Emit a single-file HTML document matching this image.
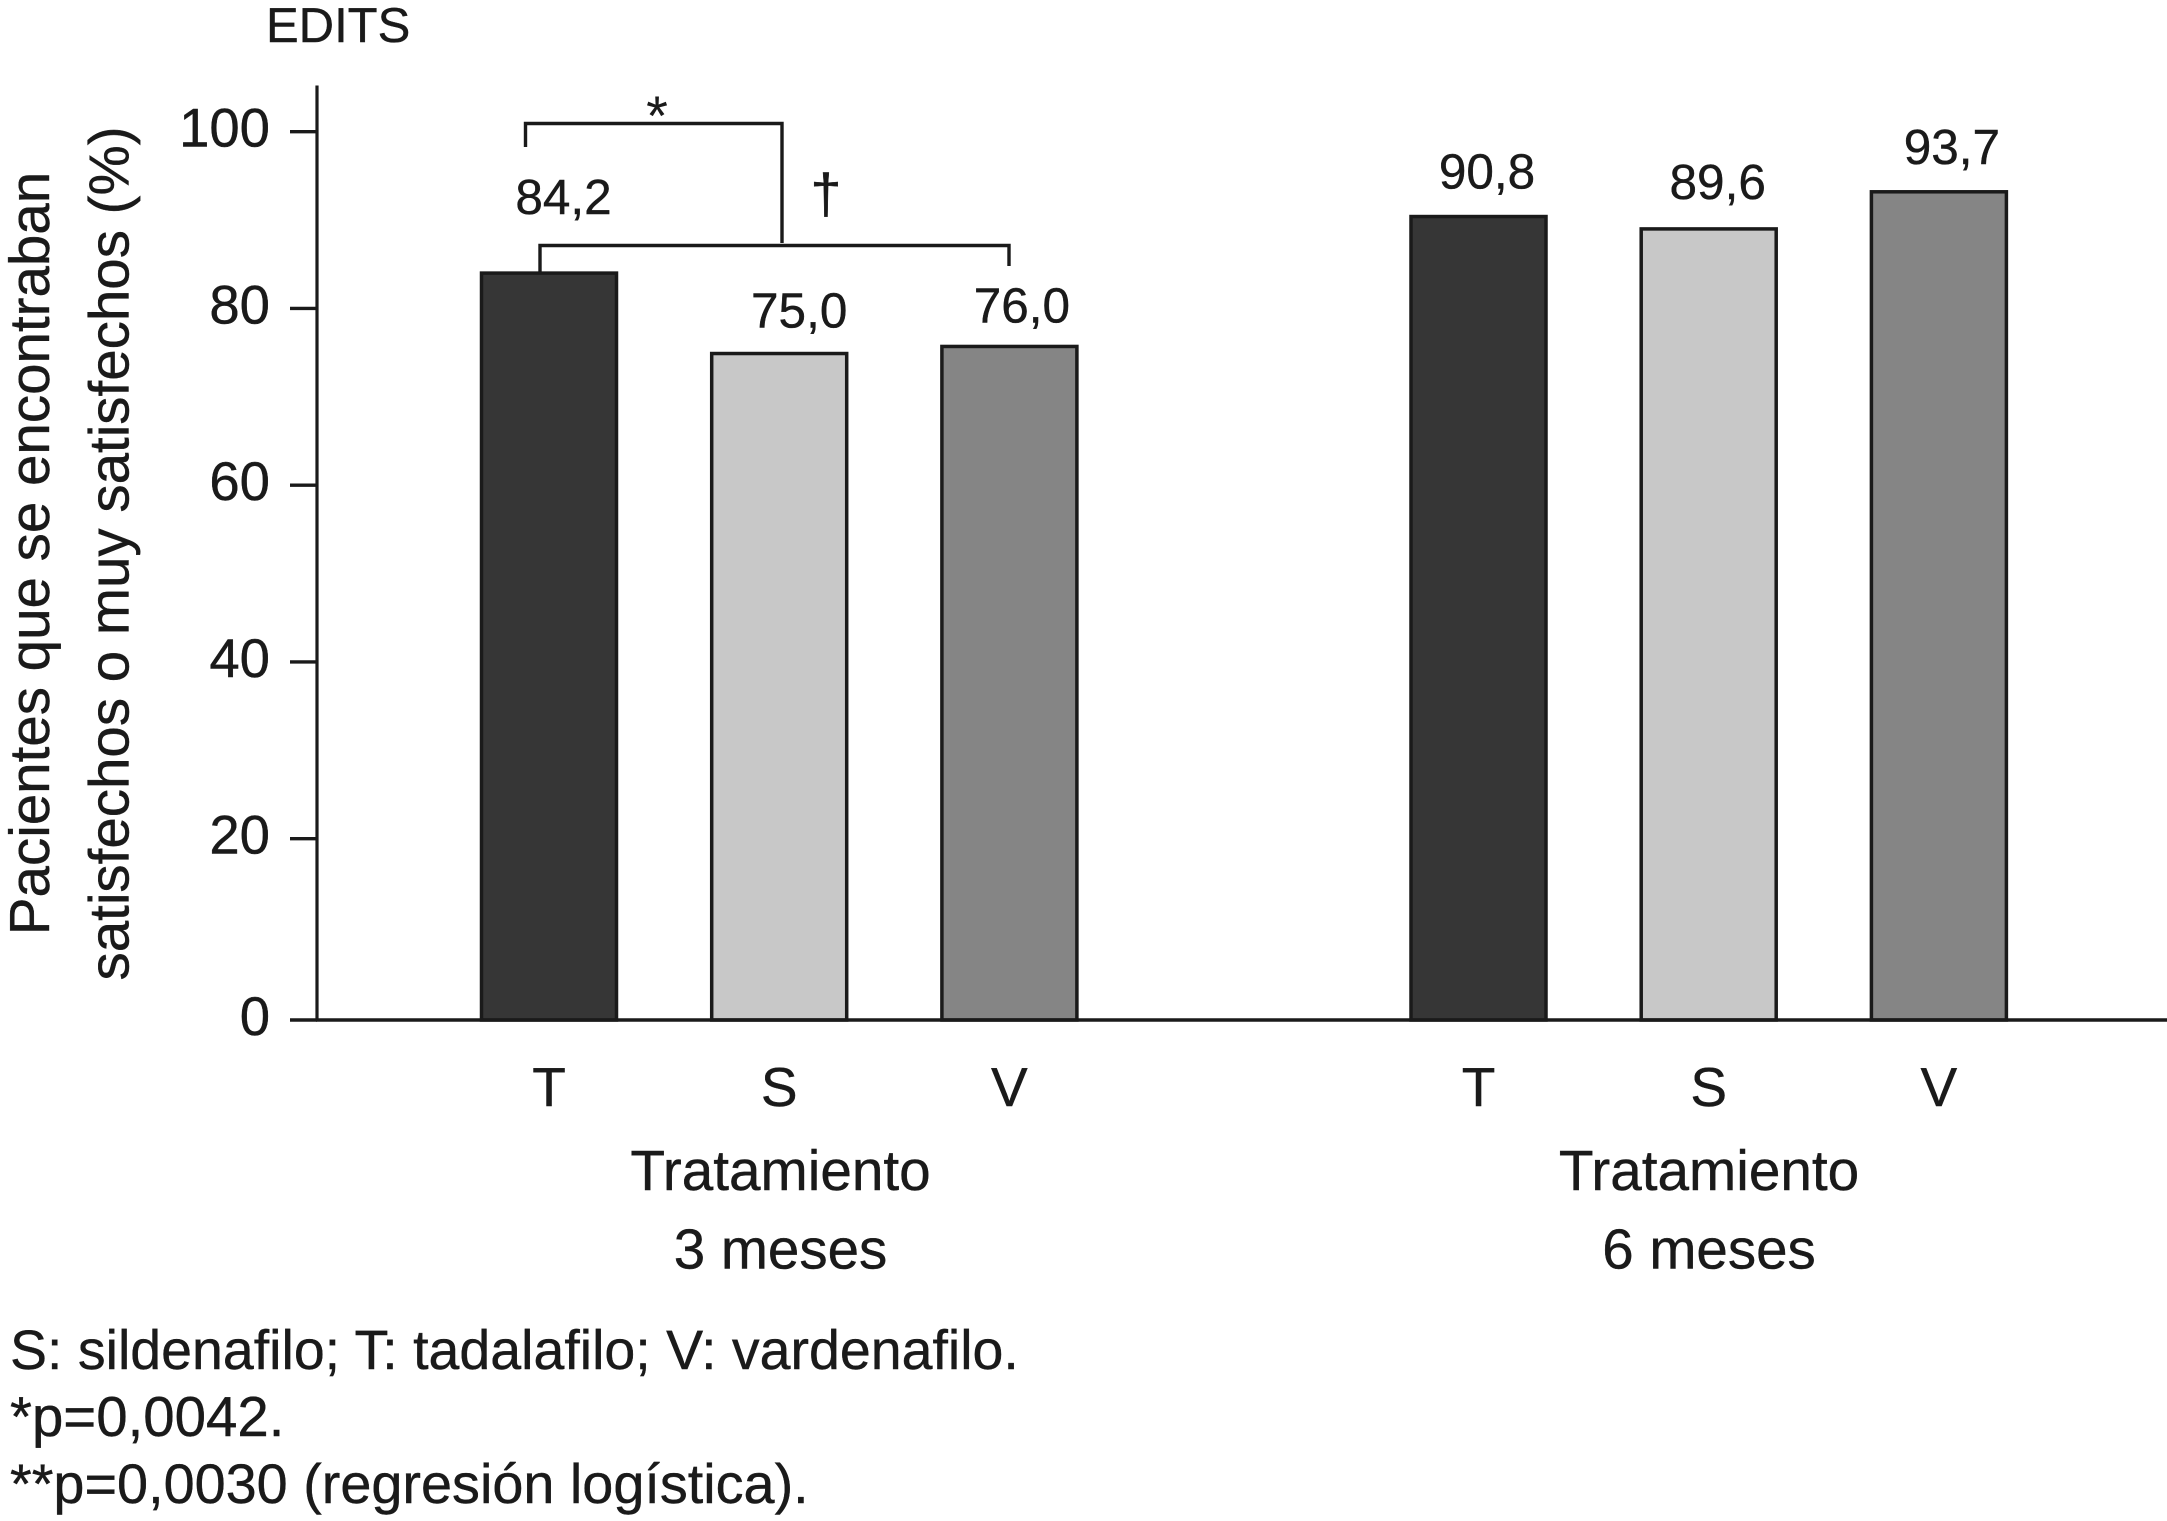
<!DOCTYPE html>
<html lang="es">
<head>
<meta charset="utf-8">
<title>EDITS</title>
<style>
  html, body { margin: 0; padding: 0; background: #fff; }
  body { width: 2167px; height: 1521px; overflow: hidden; }
  svg { display: block; }
  text { font-family: "Liberation Sans", Arial, sans-serif; fill: #1a1a1a; stroke: #1a1a1a; stroke-width: 0.4px; text-rendering: geometricPrecision; }
</style>
</head>
<body>
<svg id="chart" xmlns="http://www.w3.org/2000/svg" width="2167" height="1521" viewBox="0 0 2167 1521">
  <rect x="0" y="0" width="2167" height="1521" fill="#fff"/>
  <text x="266" y="42" font-size="49">EDITS</text>

  <g id="bars"></g>

  <g id="y-axis"></g>
  <line x1="316" y1="1020" x2="2167" y2="1020" stroke="#1a1a1a" stroke-width="3.5"/>

  <text transform="translate(49 553.5) rotate(-90)" text-anchor="middle" font-size="56.5">Pacientes que se encontraban</text>
  <text transform="translate(128.5 553.5) rotate(-90)" text-anchor="middle" font-size="56.5">satisfechos o muy satisfechos (%)</text>

  <g id="x-labels"></g>
  <g id="value-labels"></g>

  <path d="M525.5 147 V123.5 H782 V243" fill="none" stroke="#1a1a1a" stroke-width="3.4"/>
  <path d="M540 272 V245.5 H1009 V266" fill="none" stroke="#1a1a1a" stroke-width="3.4"/>
  <text x="657" y="135" text-anchor="middle" font-size="56" style="stroke-width:0">*</text>
  <text x="826" y="213" text-anchor="middle" font-size="56">†</text>

  <text x="780.5" y="1190" text-anchor="middle" font-size="56.7">Tratamiento</text>
  <text x="780.5" y="1268.5" text-anchor="middle" font-size="56.5">3 meses</text>
  <text x="1709" y="1190" text-anchor="middle" font-size="56.7">Tratamiento</text>
  <text x="1709" y="1268.5" text-anchor="middle" font-size="56.5">6 meses</text>

  <text x="10" y="1369" font-size="55.5">S: sildenafilo; T: tadalafilo; V: vardenafilo.</text>
  <text x="10" y="1436" font-size="56.4">*p=0,0042.</text>
  <text x="10" y="1503" font-size="55.8">**p=0,0030 (regresión logística).</text>
</svg>
<script>
// Chart data
const categories = ['T', 'S', 'V'];
const months3Values = [84.0, 74.9, 75.7];
const months6Values = [90.4, 89.0, 93.2];
const months3Printed = ['84,2', '75,0', '76,0'];
const months6Printed = ['90,8', '89,6', '93,7'];
const yTicks = [0, 20, 40, 60, 80, 100];
const barColors = ['#363636', '#c8c8c8', '#858585'];

// Axis functions: the source axis has a slightly wider 0-20 interval
const NS = 'http://www.w3.org/2000/svg';
function yScale(v) {
  if (v < 20) return 1020 - v * 9.065;
  return 838.7 - (v - 20) * 8.8375;
}
function xScale(group, cat) { return 549 + group * 929.5 + cat * 230.2; }
const barWidth = 135;
const labelDx = [[14.5, 20, 12.5], [8.5, 9, 13]];
const labelDy = [[-59, -26, -24], [-28, -30, -28]];

function make(tag, attrs, parent) {
  const el = document.createElementNS(NS, tag);
  for (const k in attrs) el.setAttribute(k, attrs[k]);
  parent.appendChild(el);
  return el;
}

const barsG = document.getElementById('bars');
const xLabelsG = document.getElementById('x-labels');
const valueLabelsG = document.getElementById('value-labels');
const yAxisG = document.getElementById('y-axis');

[months3Values, months6Values].forEach(function (series, g) {
  const printed = g === 0 ? months3Printed : months6Printed;
  series.forEach(function (v, c) {
    const cx = xScale(g, c);
    const top = yScale(v);
    const bar = make('rect', {
      x: cx - barWidth / 2, y: top, width: barWidth, height: yScale(0) - top,
      fill: barColors[c], stroke: '#1a1a1a', 'stroke-width': 3.5
    }, barsG);
    
    

    const cat = make('text', { x: cx, y: 1106, 'text-anchor': 'middle', 'font-size': 55 }, xLabelsG);
    cat.textContent = categories[c];
    
    

    const val = make('text', {
      x: cx + labelDx[g][c], y: top + labelDy[g][c], 'text-anchor': 'middle', 'font-size': 49.5
    }, valueLabelsG);
    val.textContent = printed[c];
    
    
  });
});

const yAxisLine = make('line', { x1: 317, y1: 85.5, x2: 317, y2: 1021, stroke: '#1a1a1a', 'stroke-width': 3.2 }, yAxisG);



yTicks.forEach(function (t) {
  const y = yScale(t);
  const tick = make('line', { x1: 290, y1: y, x2: 317, y2: y, stroke: '#1a1a1a', 'stroke-width': 3.4 }, yAxisG);
  
  
  const label = make('text', { x: 270, y: y + 15, 'text-anchor': 'end', 'font-size': 54.5 }, yAxisG);
  label.textContent = String(t);
  
  
});
</script>
</body>
</html>
